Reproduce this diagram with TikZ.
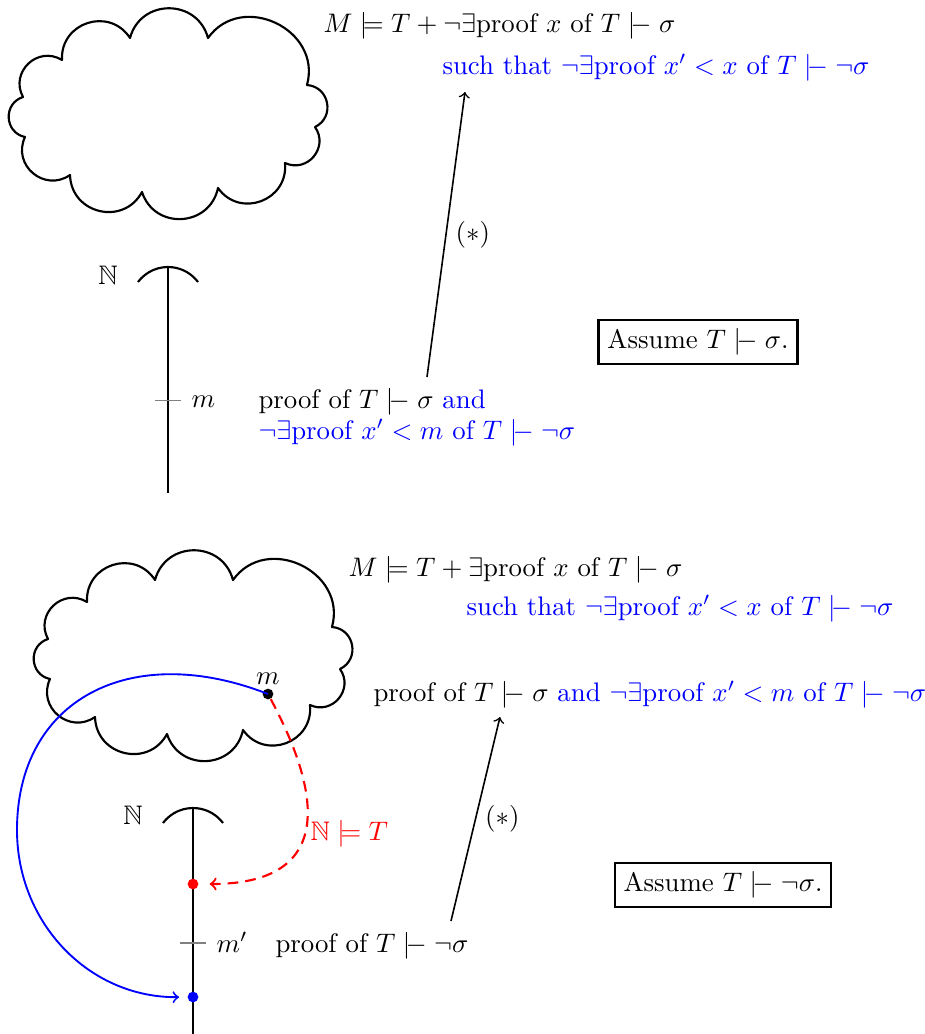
\documentclass[tikz,border=0pt]{standalone}
\usepackage{amssymb}
\newcommand\prv{\mathrel{|}\joinrel\relbar}
\newcommand\cloudoutline{(23,97) to[cloudpuff] (62,60) to[cloudpuff] (130,38)
  to[cloudpuff] (208,38) to[cloudpuff=80] (307,85) to[cloudpuff] (315,127)
  to[cloudpuff] (285,163) to[cloudpuff] (218,188) to[cloudpuff] (142,192)
  to[cloudpuff] (70,175) to[cloudpuff] (25,137) to[cloudpuff] cycle}
\begin{document}
\begin{tikzpicture}[x=0.3731pt,y=-0.3731pt,
  txt/.style={inner sep=0pt, anchor=base west},
  cloudpuff/.style={bend left=#1, looseness=1.35},
  cloudpuff/.default=75,
  cloudline/.style={draw, thick, line join=round},
  axis/.style={thick},
  tickmark/.style={gray, semithick},
  dot/.style={circle, fill, inner sep=0pt, minimum size=4pt},
  proofarrow/.style={->, semithick},
  assume/.style={draw, thick},
  starlabel/.style={right, pos=0.5}]
\useasboundingbox (0,0) rectangle (925,1034);

% ---------- top half ----------
\begin{scope}
  \draw[cloudline] \cloudoutline;
\end{scope}
\coordinate (M1) at (168,114.5);
\node[txt] (t1) at (323,32) {$M \models T + \neg\exists$proof $x$ of $T \prv \sigma$};
\node[txt,blue] (t2) at (442,74) {such that $\neg\exists$proof $x'<x$ of $T\prv\neg\sigma$};
\node[txt] (t3a) at (258,408) {proof of $T\prv\sigma$ \textcolor{blue}{and}};
\node[txt,blue] (t3b) at (258,439) {$\neg\exists$proof $x'<m$ of $T\prv\neg\sigma$};

\coordinate (N1top) at (168,267);
\coordinate (N1bot) at (168,493);
\draw[axis] (N1top) -- (N1bot);
\draw[axis] (138,282) arc[start angle=216.87, end angle=323.13, radius=37.5];
\node (N1) at (108,275) {$\mathbb{N}$};
\coordinate (m1) at (168,400.5);
\draw[tickmark] (m1) ++(-13,0) -- ++(26,0);
\node[txt] (m1lab) at (191,407) {$m$};

\coordinate (a1s) at (427,377);
\coordinate (a1e) at (465,92);
\draw[proofarrow] (a1s) -- node[starlabel] {$(*)$} (a1e);

\node[assume] (A1) at (698,342) {Assume $T\prv\sigma$.};

% ---------- bottom half ----------
\begin{scope}[shift={(25,542)}]
  \draw[cloudline] \cloudoutline;
\end{scope}
\coordinate (M2) at (193,656);
\node[txt] (b1) at (348,576) {$M\models T+\exists$proof $x$ of $T\prv\sigma$};
\node[txt,blue] (b2) at (466,615) {such that $\neg\exists$proof $x'<x$ of $T\prv\neg\sigma$};
\node[txt] (b3) at (373,701) {proof of $T\prv\sigma$ \textcolor{blue}{and $\neg\exists$proof $x'<m$ of $T\prv\neg\sigma$}};

\coordinate (N2top) at (193,808);
\coordinate (N2bot) at (193,1034);
\draw[axis] (N2top) -- (N2bot);
\draw[axis] (163,823) arc[start angle=216.87, end angle=323.13, radius=37.5];
\node (N2) at (133,815) {$\mathbb{N}$};
\coordinate (m2) at (193,943);
\draw[tickmark] (m2) ++(-13,0) -- ++(26,0);
\node[txt] (m2lab) at (216,952) {$m'$};
\node[txt] (b4) at (275,952) {proof of $T\prv\neg\sigma$};

\node[dot] (m) at (268,694) {};
\node[inner sep=0pt] (mlab) at (268,679) {$m$};
\node[dot,red] (rdot) at (193,884) {};
\node[dot,blue] (bdot) at (193,997) {};
\coordinate (bl) at (17,830);

\draw[blue, line width=0.7pt, ->, shorten >=3pt] (m.center) .. controls (130,640) and (17,700) .. (bl)
   .. controls (17,923) and (89,998) .. (bdot);
\draw[red, thick, dash pattern=on 4pt off 2.6pt, ->, shorten >=4pt] (m) .. controls (329,808) and (325,884) .. (rdot);
\node[txt,red] (NT) at (310,840) {$\mathbb{N}\models T$};

\coordinate (a2s) at (451,921);
\coordinate (a2e) at (500,717);
\draw[proofarrow] (a2s) -- node[starlabel] {$(*)$} (a2e);

\node[assume] (A2) at (723,885) {Assume $T\prv\neg\sigma$.};
\end{tikzpicture}
\end{document}
